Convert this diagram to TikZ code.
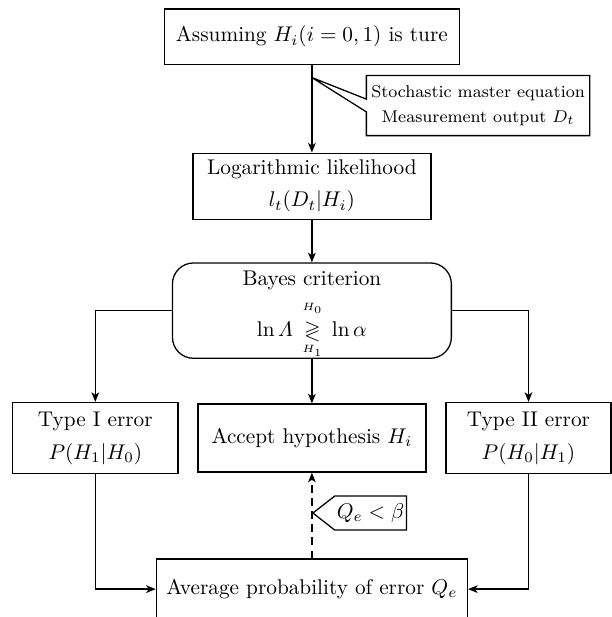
\documentclass[tikz,border=0pt]{standalone}
\usepackage{amsmath,amssymb}
\usepackage{tikz}
\usetikzlibrary{calc}
\usetikzlibrary{arrows, arrows.meta, shapes.symbols}

\begin{document}
\begin{tikzpicture}[>={Stealth[length=4.5pt, width=3.6pt, inset=1.2pt]}, x=1pt, y=1pt, semithick, align=center, node distance=60pt,
  box/.style={rectangle, draw, inner sep=2pt},
  bayesbox/.style={box, inner ysep=0pt, rounded corners=9.9pt, minimum width=131.1pt, minimum height=44.7pt},
  errbox/.style={box, minimum width=77.6pt, minimum height=33.4pt},
  tagbox/.style={signal, signal to=west, signal pointer angle=76, draw, minimum width=42.3pt, minimum height=16pt, inner sep=1pt}]
  \useasboundingbox (0,0) rectangle (287.2,290);

  \node[box, minimum width=138.7pt, minimum height=25.9pt]  (top)    at (146.6,272.8)                       {Assuming $H_i(i=0,1)$ is ture};
  \node[box, minimum width=111.9pt, minimum height=31pt]    (loglik) [below of=top, node distance=70.3pt]   {Logarithmic likelihood\\[3pt] $l_t(D_t|H_i)$};
  \node[bayesbox]                                            (bayes)  [below of=loglik, node distance=58.5pt] {\rule{0pt}{10.5pt}Bayes criterion\\[4.5pt] $\ln\varLambda\,\mathrel{\mathop{\gtrless}\limits^{\scriptscriptstyle H_0\rule[-4pt]{0pt}{4pt}}_{\scriptscriptstyle H_1\rule{0pt}{4.5pt}}}\,\ln\alpha$};
  \node[box, minimum width=107.2pt, minimum height=32pt]    (accept) [below of=bayes, node distance=59.9pt]  {Accept hypothesis $H_i$};
  \node[errbox]                                              (typeI)  [left of=accept, node distance=101.8pt] {Type I error\\[3.5pt] $P(H_1|H_0)$};
  \node[errbox]                                              (typeII) [right of=accept, node distance=101.8pt]{Type II error\\[3.5pt] $P(H_0|H_1)$};
  \node[box, minimum width=146.2pt, minimum height=28.2pt]  (avg)    [below of=accept, node distance=71pt]   {Average probability of error $Q_e$};

  % side note on the first arrow
  \coordinate (tip) at ($(top.south)+(0,-6)$);
  \node[inner sep=2pt, minimum width=104.3pt, minimum height=27.7pt, font=\fontsize{8}{11.8}\selectfont] (info) at (224.7,240.4) {Stochastic master equation\\ Measurement output $D_t$};
  \draw (tip) -- ($(info.west)+(0,3)$) |- (info.north east) |- (info.south west) -- ($(info.west)+(0,-3)$) -- cycle;

  \path[->]
        (top)       edge                (loglik)
        (loglik)    edge                (bayes)
        (bayes)     edge                (accept)
        ;
  \draw[->] (bayes.west)  -| (typeI.north);
  \draw[->] (bayes.east)  -| (typeII.north);
  \draw[->] (typeI.south) |- (avg.west);
  \draw[->] (typeII.south) |- (avg.east);
  \draw[->, dash pattern=on 3.7pt off 2.5pt] (avg) -- (accept);

  \node[tagbox, anchor=west] (cond) at ($(accept.south)!0.47!(avg.north)$) {$Q_e<\beta$};

\end{tikzpicture}
\end{document}
